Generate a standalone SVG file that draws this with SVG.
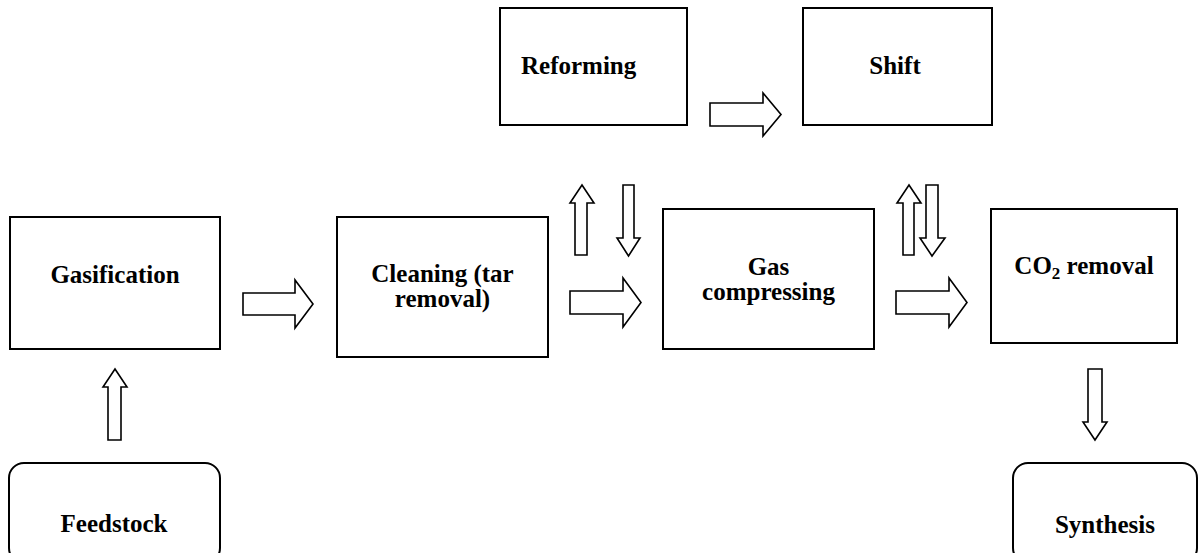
<svg xmlns="http://www.w3.org/2000/svg" width="1199" height="553" viewBox="0 0 1199 553">
<style>
.box{fill:#fff;stroke:#000;stroke-width:2}
.arr{fill:#fff;stroke:#000;stroke-width:1.6;stroke-linejoin:miter}
.t{font-family:'Liberation Serif','Times New Roman',Tinos,'DejaVu Serif',serif;font-weight:bold;font-size:25px;fill:#000}
.c{text-anchor:middle}
</style>
<rect width="1199" height="553" fill="#fff"/>
<g id="gasification"><rect class="box" x="10" y="217" width="210" height="132"/><text class="t c" x="115" y="283">Gasification</text></g>
<g id="cleaning"><rect class="box" x="337" y="217" width="211" height="140"/><text class="t c" x="442.5" y="282">Cleaning (tar</text><text class="t c" x="442.5" y="307">removal)</text></g>
<g id="reforming"><rect class="box" x="500" y="8" width="187" height="117"/><text class="t" x="521" y="74">Reforming</text></g>
<g id="shift"><rect class="box" x="803" y="8" width="189" height="117"/><text class="t c" x="895" y="74">Shift</text></g>
<g id="gas-compressing"><rect class="box" x="663" y="209" width="211" height="140"/><text class="t c" x="768.5" y="275">Gas</text><text class="t c" x="768.5" y="300">compressing</text></g>
<g id="co2-removal"><rect class="box" x="991" y="209" width="186" height="134"/><text class="t c" x="1084" y="274">CO<tspan font-size="17" dy="5">2</tspan><tspan dy="-5"> removal</tspan></text></g>
<g id="feedstock"><rect class="box" x="9" y="463" width="211" height="100" rx="15" ry="15"/><text class="t c" x="114" y="532">Feedstock</text></g>
<g id="synthesis"><rect class="box" x="1013" y="463" width="184" height="100" rx="15" ry="15"/><text class="t c" x="1105" y="533">Synthesis</text></g>
<g id="connectors">
<polygon class="arr" points="243,293 295,293 295,280 313,304 295,328 295,315 243,315"/>
<polygon class="arr" points="570,291 623,291 623,278 641,302.5 623,327 623,314 570,314"/>
<polygon class="arr" points="710,103 763,103 763,93 781,114.5 763,136 763,126 710,126"/>
<polygon class="arr" points="896,291 949,291 949,278 967,302.5 949,327 949,314 896,314"/>
<polygon class="arr" points="575,255 575,203 570,203 582,185 594,203 587,203 587,255"/>
<polygon class="arr" points="623,185 634,185 634,238 640,238 628.5,256 617,238 623,238"/>
<polygon class="arr" points="903,255 903,203 897,203 909,185 921,203 914,203 914,255"/>
<polygon class="arr" points="926,185 938,185 938,238 945,238 932,256 920,238 926,238"/>
<polygon class="arr" points="108,440 108,387 103,387 115,369 127,387 121,387 121,440"/>
<polygon class="arr" points="1088,369 1102,369 1102,422 1107,422 1095,440 1083,422 1088,422"/>
</g>
</svg>
